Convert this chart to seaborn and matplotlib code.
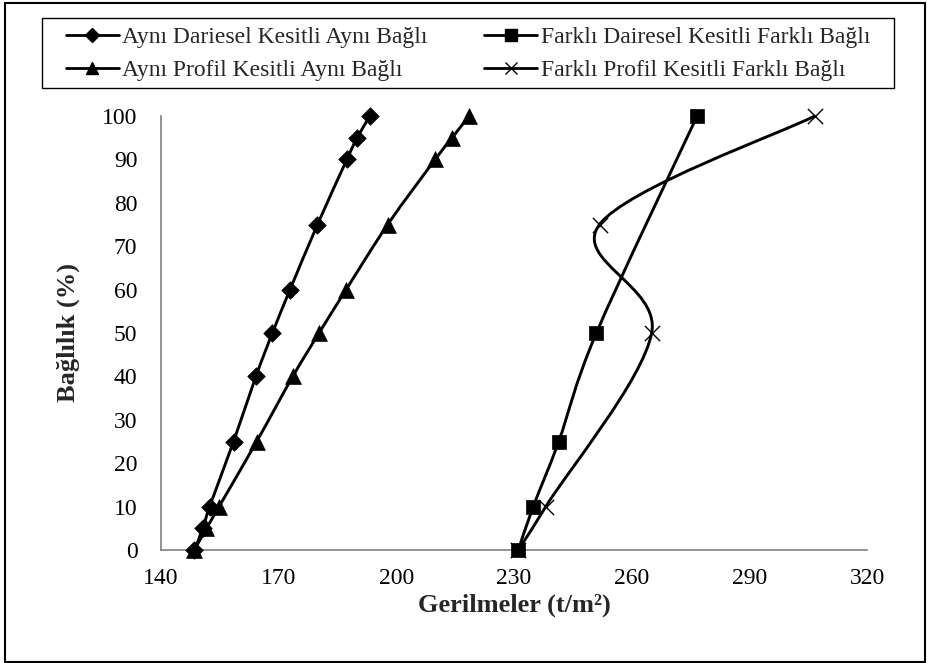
import numpy as np
import pandas as pd
import matplotlib
matplotlib.use("Agg")
import matplotlib.pyplot as plt
from matplotlib.path import Path
from matplotlib.patches import PathPatch, Rectangle
from matplotlib.lines import Line2D
import seaborn as sns

# Connectivity levels (%) and stresses (t/m²) for each configuration
bag_ayni_daire = [0, 5, 10, 25, 40, 50, 60, 75, 90, 95, 100]
ger_ayni_daire = [148.5, 150.7, 152.4, 158.5, 164.2, 168.4, 172.9, 179.9, 187.4, 190.0, 193.3]

bag_ayni_profil = [0, 5, 10, 25, 40, 50, 60, 75, 90, 95, 100]
ger_ayni_profil = [148.5, 151.6, 154.8, 164.4, 173.6, 180.3, 187.2, 197.8, 209.9, 214.2, 218.6]

bag_farkli_daire = [0, 10, 25, 50, 100]
ger_farkli_daire = [231.1, 234.9, 241.4, 251.0, 276.7]

bag_farkli_profil = [0, 10, 50, 75, 100]
ger_farkli_profil = [231.1, 238.1, 265.1, 251.8, 306.7]

labels = [
    "Aynı Dariesel Kesitli Aynı Bağlı",
    "Aynı Profil Kesitli Aynı Bağlı",
    "Farklı Dairesel Kesitli Farklı Bağlı",
    "Farklı Profil Kesitli Farklı Bağlı",
]

x_ticks = [140, 170, 200, 230, 260, 290, 320]
y_ticks = [0, 10, 20, 30, 40, 50, 60, 70, 80, 90, 100]

sns.set_theme(style="white")
plt.rcParams["font.family"] = ["Liberation Serif", "DejaVu Serif"]

W, H = 927, 663
fig = plt.figure(figsize=(W / 100, H / 100), dpi=100)
ax = fig.add_axes([161 / W, 1 - 550 / H, (867 - 161) / W, (550 - 116) / H])

series = [
    (ger_ayni_daire, bag_ayni_daire, labels[0]),
    (ger_ayni_profil, bag_ayni_profil, labels[1]),
    (ger_farkli_daire, bag_farkli_daire, labels[2]),
    (ger_farkli_profil, bag_farkli_profil, labels[3]),
]
df = pd.concat(
    [pd.DataFrame({"Gerilme": xs, "Baglilik": ys, "Seri": lab}) for xs, ys, lab in series],
    ignore_index=True,
)


def smooth_path(xs, ys):
    """Cubic Bezier path through the points (Catmull-Rom style tangents)."""
    p = np.column_stack([xs, ys]).astype(float)
    n = len(p)
    verts = [p[0]]
    codes = [Path.MOVETO]
    for i in range(n - 1):
        p0 = p[i - 1] if i > 0 else p[i]
        p1 = p[i]
        p2 = p[i + 1]
        p3 = p[i + 2] if i + 2 < n else p[i + 1]
        c1 = p1 + (p2 - p0) / 6.0
        c2 = p2 - (p3 - p1) / 6.0
        verts += [c1, c2, p2]
        codes += [Path.CURVE4] * 3
    return Path(np.array(verts), codes)


markers = {labels[0]: "D", labels[1]: "^", labels[2]: "s", labels[3]: "x"}
sizes = {labels[0]: 80, labels[1]: 130, labels[2]: 105, labels[3]: 120}

for xs, ys, lab in series:
    ax.add_patch(PathPatch(smooth_path(xs, ys), fill=False, edgecolor="black",
                           lw=2.1, zorder=2, transform=ax.transData, clip_on=False))
    sub = df[df["Seri"] == lab]
    if markers[lab] == "x":
        sns.scatterplot(data=sub, x="Gerilme", y="Baglilik", marker="x",
                        s=sizes[lab], color="black", linewidth=1.0, ax=ax,
                        zorder=3, legend=False)
    else:
        sns.scatterplot(data=sub, x="Gerilme", y="Baglilik", marker=markers[lab],
                        s=sizes[lab], color="black", edgecolor="black",
                        linewidth=0.5, ax=ax, zorder=3, legend=False)
for coll in ax.collections:
    coll.set_clip_on(False)

ax.set_xlim(140, 320)
ax.set_ylim(0, 100)
ax.set_xticks(x_ticks)
ax.set_yticks(y_ticks)
ax.set_xticklabels([str(v) for v in x_ticks], fontsize=17)
ax.set_yticklabels([str(v) for v in y_ticks], fontsize=17)
ax.tick_params(axis="both", direction="out", length=5, width=1.0,
               color="#808080", labelcolor="black")
ax.tick_params(axis="x", pad=8)
ax.tick_params(axis="y", pad=12)
for s in ["top", "right"]:
    ax.spines[s].set_visible(False)
for s in ["left", "bottom"]:
    ax.spines[s].set_color("#808080")
    ax.spines[s].set_linewidth(1.2)

ax.set_xlabel("Gerilmeler (t/m²)", fontsize=19, fontweight="bold", labelpad=3)
ax.set_ylabel("Bağlılık (%)", fontsize=19, fontweight="bold", labelpad=16)

handles = [
    Line2D([], [], color="black", lw=2.0, marker="D", markersize=7),
    Line2D([], [], color="black", lw=2.0, marker="^", markersize=9),
    Line2D([], [], color="black", lw=2.0, marker="s", markersize=9),
    Line2D([], [], color="black", lw=2.0, marker="x", markersize=9, markeredgewidth=1.0),
]
leg = fig.legend(handles, labels, loc="center", ncol=2,
                 bbox_to_anchor=(468 / W, 1 - 54 / H), fontsize=17, frameon=False,
                 handlelength=2.25, handletextpad=0.15, columnspacing=2.4,
                 borderpad=0.0, labelspacing=0.5)

# Legend box
fig.patches.append(Rectangle((42 / W, 1 - 88 / H), (894 - 42) / W, 70 / H,
                             transform=fig.transFigure, fill=False,
                             edgecolor="black", lw=1.0, zorder=5))

# Outer border of the chart area
fig.patches.append(Rectangle((5 / W, 1.5 / H), (925 - 5) / W, (H - 4.5) / H,
                             transform=fig.transFigure, fill=False,
                             edgecolor="black", lw=1.5))

fig.savefig("out.png", dpi=100, facecolor="white")
